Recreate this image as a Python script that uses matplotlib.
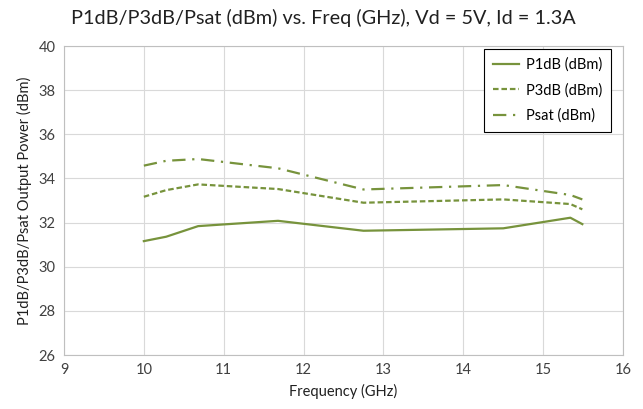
import matplotlib
matplotlib.use("Agg")
import matplotlib.pyplot as plt

freq = [10.0, 10.28, 10.68, 11.68, 12.75, 14.5, 15.34, 15.49]
p1db = [31.16, 31.36, 31.84, 32.08, 31.63, 31.74, 32.22, 31.93]
p3db = [33.17, 33.47, 33.73, 33.52, 32.90, 33.05, 32.84, 32.60]
psat = [34.58, 34.80, 34.88, 34.46, 33.50, 33.70, 33.25, 33.05]

x_ticks = list(range(9, 17))
y_ticks = list(range(26, 41, 2))

plt.rcParams["font.family"] = ["Lato", "DejaVu Sans"]
col = "#77933C"

fig = plt.figure(figsize=(6.43, 4.09), dpi=100)
ax = fig.add_axes([0.0995, 0.132, 0.8695, 0.7555])

ax.plot(freq, p1db, color=col, lw=1.6, label="P1dB (dBm)")
ax.plot(freq, p3db, color=col, lw=1.6, dashes=(2.5, 1.3), label="P3dB (dBm)")
ax.plot(freq, psat, color=col, lw=1.6, dashes=(6, 3, 1, 3), label="Psat (dBm)")

ax.set_xlim(9, 16)
ax.set_ylim(26, 40)
ax.set_xticks(x_ticks)
ax.set_yticks(y_ticks)
ax.tick_params(length=0, labelsize=10.5, colors="#404040", pad=6)
ax.grid(color="#d9d9d9", lw=0.8)
for s in ax.spines.values():
    s.set_color("#bfbfbf")
    s.set_linewidth(0.8)

ax.set_xlabel("Frequency (GHz)", fontsize=10.5, color="#202020", labelpad=5)
ax.set_ylabel("P1dB/P3dB/Psat Output Power (dBm)", fontsize=10.5, color="#202020", labelpad=5)
fig.suptitle("P1dB/P3dB/Psat (dBm) vs. Freq (GHz), Vd = 5V, Id = 1.3A",
             x=0.503, y=0.978, fontsize=14.3, color="#202020")

leg = ax.legend(loc="upper right", bbox_to_anchor=(0.9785, 0.99), borderaxespad=0,
                fontsize=10.5, fancybox=False, framealpha=1, edgecolor="black",
                handlelength=1.8, handletextpad=0.5, borderpad=0.6, labelspacing=0.75)
leg.get_frame().set_linewidth(0.8)

fig.savefig("out.png", dpi=100)
